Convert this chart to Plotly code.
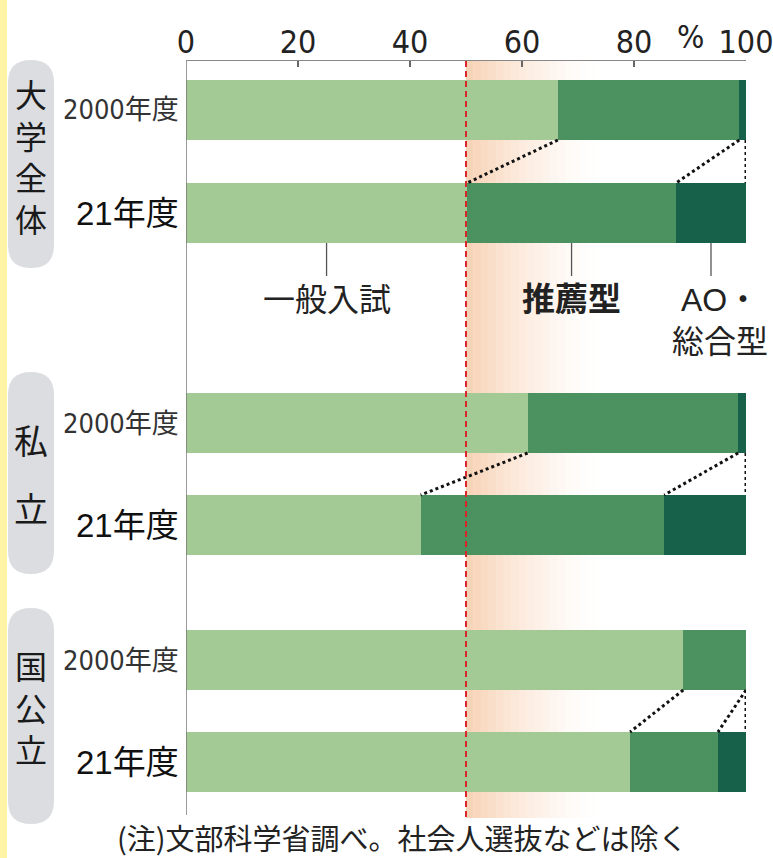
import plotly.graph_objects as go

# ---------------- data ----------------
groups = ["大学全体", "私立", "国公立"]
years = ["2000年度", "21年度"]
series_names = ["一般入試", "推薦型", "AO・総合型"]
ippan = [66.4, 50.2, 61.0, 41.9, 88.8, 79.3]
suisen = [32.4, 37.3, 37.6, 43.5, 11.2, 15.7]
ao = [1.2, 12.5, 1.4, 14.6, 0.0, 5.0]
x_ticks = [0, 20, 40, 60, 80, 100]
ref_line = 50
note = "(注)文部科学省調べ。社会人選抜などは除く"

# ---------------- layout constants ----------------
W, H = 773, 858
TOP = 61
row_pos = [110, 213, 423, 525, 660, 762]   # y in pixel units
bar_h = 60
colors = ["#a3c995", "#4c9160", "#17604a"]
CJK = "Noto Sans CJK JP"
NARROW = "DejaVu Sans Condensed"

def X(px):
    return px / W

def Y(py):
    return 1 - py / H

fig = go.Figure()
for name, vals, c in zip(series_names, [ippan, suisen, ao], colors):
    fig.add_trace(go.Bar(
        x=vals, y=row_pos, orientation="h", width=bar_h, name=name,
        marker=dict(color=c, line=dict(width=0)), showlegend=False,
        hoverinfo="skip"))

# dotted connectors between the two years of each group
for g in range(3):
    i0, i1 = 2 * g, 2 * g + 1
    b0 = row_pos[i0] + bar_h / 2
    t1 = row_pos[i1] - bar_h / 2
    c0 = [ippan[i0], ippan[i0] + suisen[i0], 100]
    c1 = [ippan[i1], ippan[i1] + suisen[i1], 100]
    xs, ys = [], []
    for a, b in zip(c0, c1):
        xs += [a, b, None]
        ys += [b0, t1, None]
    fig.add_trace(go.Scatter(x=xs, y=ys, mode="lines", showlegend=False,
                             line=dict(color="#111", width=3, dash="dot"),
                             hoverinfo="skip"))

shapes = []
# left yellow strip
shapes.append(dict(type="rect", xref="paper", yref="paper", x0=0, x1=X(7),
                   y0=0, y1=1, fillcolor="#fff3a6", line=dict(width=0), layer="below"))
# orange gradient band
n = 18
for k in range(n):
    op = 0.5 * (1 - k / n) ** 1.6
    shapes.append(dict(type="rect", xref="x", yref="y", x0=ref_line + k * 1.35,
                       x1=ref_line + (k + 1) * 1.35, y0=TOP, y1=818,
                       fillcolor="rgb(240,168,112)", opacity=op,
                       line=dict(width=0), layer="below"))
# left vertical line
shapes.append(dict(type="line", xref="x", yref="y", x0=0, x1=0, y0=TOP, y1=815,
                   line=dict(color="#7a7a7a", width=1.5), layer="above"))
# red dashed reference line
shapes.append(dict(type="line", xref="x", yref="y", x0=ref_line, x1=ref_line,
                   y0=TOP, y1=820, line=dict(color="#d9262b", width=2, dash="6px,4px"),
                   layer="above"))

# pills for group labels
pills = [(60, 268), (372, 574), (608, 824)]
for (t, b) in pills:
    x0, x1 = 8, 54
    r = 23
    path = (f"M {X(x0)},{Y(t + r)} Q {X(x0)},{Y(t)} {X(x0 + r)},{Y(t)} "
            f"Q {X(x1)},{Y(t)} {X(x1)},{Y(t + r)} L {X(x1)},{Y(b - r)} "
            f"Q {X(x1)},{Y(b)} {X(x0 + r)},{Y(b)} Q {X(x0)},{Y(b)} {X(x0)},{Y(b - r)} Z")
    shapes.append(dict(type="path", xref="paper", yref="paper", path=path,
                       fillcolor="#dcdde1", line=dict(width=0), layer="below"))

# leader lines under 大学全体 21年度
i21 = 1
segs = [(0, ippan[i21]), (ippan[i21], ippan[i21] + suisen[i21]),
        (ippan[i21] + suisen[i21], 100)]
mids = [(a + b) / 2 for a, b in segs]
for m in mids:
    shapes.append(dict(type="line", xref="x", yref="y", x0=m, x1=m,
                       y0=row_pos[i21] + bar_h / 2, y1=276,
                       line=dict(color="#555", width=1.3)))

annotations = []
# group labels (vertical text)
annotations.append(dict(xref="paper", yref="paper", x=X(31), y=Y(155),
                        text="<br>".join(groups[0]), showarrow=False,
                        xanchor="center", yanchor="middle",
                        font=dict(family=CJK, size=32, color="#1a1a1a")))
for ch, yy in zip(groups[1], [440, 507]):
    annotations.append(dict(xref="paper", yref="paper", x=X(31), y=Y(yy),
                            text=ch, showarrow=False, xanchor="center",
                            yanchor="middle",
                            font=dict(family=CJK, size=34, color="#1a1a1a")))
annotations.append(dict(xref="paper", yref="paper", x=X(31), y=Y(706),
                        text="<br>".join(groups[2]), showarrow=False,
                        xanchor="center", yanchor="middle",
                        font=dict(family=CJK, size=32, color="#1a1a1a")))
# row labels
for i, yy in enumerate(row_pos):
    lab = years[i % 2]
    if i % 2 == 0:
        f = dict(family=NARROW + ", Roboto, " + CJK, size=27, color="#333")
    else:
        f = dict(family="Liberation Sans, " + CJK, size=33, color="#111")
    annotations.append(dict(xref="paper", yref="y", x=X(181), y=yy, text=lab,
                            showarrow=False, xanchor="right", yanchor="middle", font=f))

# series labels
annotations.append(dict(xref="x", yref="y", x=mids[0], y=297, text=series_names[0],
                        showarrow=False, xanchor="center", yanchor="middle",
                        font=dict(family=CJK, size=32, color="#222")))
annotations.append(dict(xref="x", yref="y", x=mids[1], y=297, text="<b>" + series_names[1] + "</b>",
                        showarrow=False, xanchor="center", yanchor="middle",
                        font=dict(family=CJK, size=33, color="#222")))
annotations.append(dict(xref="paper", yref="y", x=X(720), y=321,
                        text="AO・<br>総合型",
                        showarrow=False, xanchor="center", yanchor="middle",
                        font=dict(family="Liberation Sans, " + CJK, size=32, color="#222")))
# percent sign
annotations.append(dict(xref="x", yref="paper", x=90, y=Y(37), text="%",
                        showarrow=False, xanchor="center", yanchor="middle",
                        font=dict(family=NARROW + ", sans-serif", size=32, color="#222")))
# note
annotations.append(dict(xref="paper", yref="paper", x=X(402), y=Y(837), text=note,
                        showarrow=False, xanchor="center", yanchor="middle",
                        font=dict(family=CJK, size=29, color="#222")))

fig.update_layout(
    template="none",
    width=W, height=H, margin=dict(l=0, r=0, t=0, b=0, pad=0),
    paper_bgcolor="white", plot_bgcolor="white", barmode="stack", bargap=0,
    shapes=shapes, annotations=annotations,
    xaxis=dict(domain=[186 / W, 746 / W], range=[0, 100], side="top",
               automargin=False, ticklabeloverflow="allow", ticklabelstandoff=-6,
               tickvals=x_ticks, ticktext=[str(v) for v in x_ticks],
               ticks="inside", ticklen=6, tickwidth=1.2, tickcolor="#666",
               showline=True, linecolor="#888", linewidth=1.5,
               showgrid=False, zeroline=False, fixedrange=True,
               tickfont=dict(family=NARROW + ", sans-serif", size=32, color="#222")),
    yaxis=dict(domain=[0, 1 - TOP / H], range=[H, TOP], visible=False,
               automargin=False, fixedrange=True),
)

fig.write_html("out.html", config={"displayModeBar": False, "staticPlot": True},
               post_script="document.body.style.margin='0';")
